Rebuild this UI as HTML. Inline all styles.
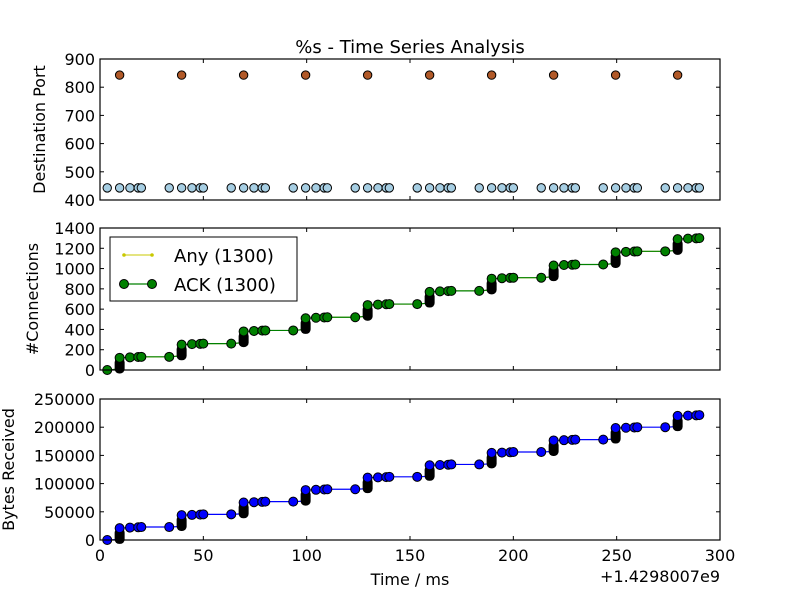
<!DOCTYPE html>
<html><head><meta charset="utf-8">
<style>
body{margin:0;background:#fff;}
svg{display:block;font-family:"DejaVu Sans","Liberation Sans",sans-serif;}
</style></head>
<body>
<svg id="chart" width="800" height="600" viewBox="0 0 800 600" xmlns="http://www.w3.org/2000/svg">
<rect width="800" height="600" fill="#fff"/>
</svg>
<script>
const xTicks=[0,50,100,150,200,250,300];
const portTicks=[400,500,600,700,800,900];
const connTicks=[0,200,400,600,800,1000,1200,1400];
const bytesTicks=[0,50000,100000,150000,200000,250000];
const blueTimes=[3.5,9.5,14.5,18.5,20,33.5,39.5,44.5,48.5,50,63.5,69.5,74.5,78.5,80,93.5,99.5,104.5,108.5,110,123.5,129.5,134.5,138.5,140,153.5,159.5,164.5,168.5,170,183.5,189.5,194.5,198.5,200,213.5,219.5,224.5,228.5,230,243.5,249.5,254.5,258.5,260,273.5,279.5,284.5,288.5,290];
const bluePorts=[443,443,443,443,443,443,443,443,443,443,443,443,443,443,443,443,443,443,443,443,443,443,443,443,443,443,443,443,443,443,443,443,443,443,443,443,443,443,443,443,443,443,443,443,443,443,443,443,443,443];
const redTimes=[9.5,39.5,69.5,99.5,129.5,159.5,189.5,219.5,249.5,279.5];
const redPorts=[843,843,843,843,843,843,843,843,843,843];
const seriesTimes=[
3.5,9.5,9.5,9.5,9.5,9.5,9.5,14.5,18.5,20,
33.5,39.5,39.5,39.5,39.5,39.5,39.5,44.5,48.5,50,
63.5,69.5,69.5,69.5,69.5,69.5,69.5,74.5,78.5,80,
93.5,99.5,99.5,99.5,99.5,99.5,99.5,104.5,108.5,110,
123.5,129.5,129.5,129.5,129.5,129.5,129.5,134.5,138.5,140,
153.5,159.5,159.5,159.5,159.5,159.5,159.5,164.5,168.5,170,
183.5,189.5,189.5,189.5,189.5,189.5,189.5,194.5,198.5,200,
213.5,219.5,219.5,219.5,219.5,219.5,219.5,224.5,228.5,230,
243.5,249.5,249.5,249.5,249.5,249.5,249.5,254.5,258.5,260,
273.5,279.5,279.5,279.5,279.5,279.5,279.5,284.5,288.5,290];
const connValues=[
0,10,32,54,76,98,120,125,128,130,
130,140,162,184,206,228,250,255,258,260,
260,270,292,314,336,358,380,385,388,390,
390,400,422,444,466,488,510,515,518,520,
520,530,552,574,596,618,640,645,648,650,
650,660,682,704,726,748,770,775,778,780,
780,790,812,834,856,878,900,905,908,910,
910,920,942,964,986,1008,1030,1035,1038,1040,
1040,1050,1072,1094,1116,1138,1160,1165,1168,1170,
1170,1180,1202,1224,1246,1268,1290,1295,1298,1300];
const bytesValues=[
0,1000,5000,9000,13000,17000,21000,22000,22500,23000,
23000,24000,28000,32000,36000,40000,44000,44500,45000,45500,
45500,46500,50500,54500,58500,62500,66500,67000,67500,68000,
68000,69000,73000,77000,81000,85000,88500,89000,89500,90000,
90000,91000,95000,99000,103000,107000,110500,111000,111500,112000,
112000,113000,117000,121000,125000,129000,132500,133000,133500,134000,
134000,135000,139000,143000,147000,151000,154500,155000,155500,156000,
156000,157000,161000,165000,169000,173000,176500,177000,177500,178000,
178000,179000,183000,187000,191000,195000,198500,199000,199500,200000,
200000,201000,205000,209000,213000,217000,220000,220500,221000,221500];

const NS="http://www.w3.org/2000/svg";
const svg=document.getElementById('chart');
function mk(tag,attrs,parent){const e=document.createElementNS(NS,tag);for(const k in attrs)e.setAttribute(k,attrs[k]);(parent||svg).appendChild(e);return e;}
const X0=100,X1=720;
const xs=t=>X0+(t-0)/(300-0)*(X1-X0);
function panel(name,top,bot,ymin,ymax,yticks,ylabel,showX,ylx){
  const g=mk('g',{});
  
  
  const ys=v=>bot-(v-ymin)/(ymax-ymin)*(bot-top);
  xTicks.forEach(t=>{const x=xs(t);
    const a=mk('line',{x1:x,x2:x,y1:bot,y2:bot-4,stroke:'#000','stroke-width':1},g);
    
    mk('line',{x1:x,x2:x,y1:top,y2:top+4,stroke:'#000','stroke-width':1},g);
    if(showX){const tx=mk('text',{x:x,y:bot+21,'font-size':16,'text-anchor':'middle',fill:'#000'},g);tx.textContent=t;
      }
  });
  yticks.forEach(v=>{const y=ys(v);
    const a=mk('line',{x1:X0,x2:X0+4,y1:y,y2:y,stroke:'#000','stroke-width':1},g);
    
    mk('line',{x1:X1,x2:X1-4,y1:y,y2:y,stroke:'#000','stroke-width':1},g);
    const tx=mk('text',{x:X0-5,y:y+6,'font-size':16,'text-anchor':'end',fill:'#000'},g);tx.textContent=v;
    
  });
  const yl=mk('text',{x:0,y:0,'font-size':16,'text-anchor':'middle',fill:'#000',transform:`translate(${ylx},${(top+bot)/2}) rotate(-90)`},g);
  yl.textContent=ylabel;
  
  return {g,ys,top,bot};
}
function frame(p){const r=mk('rect',{x:X0,y:p.top,width:X1-X0,height:p.bot-p.top,fill:'none',stroke:'#000','stroke-width':1.2},p.g);
  }
function dot(p,x,y,r,fill,name){const c=mk('circle',{cx:x,cy:y,r:r,fill:fill,stroke:'#000','stroke-width':1},p.g);
  }
function stacks(p,vals,r){
  let i=0;
  while(i<seriesTimes.length){let j=i;while(j+1<seriesTimes.length&&seriesTimes[j+1]===seriesTimes[i])j++;
    if(j>i){const x=xs(seriesTimes[i]);const y1=p.ys(vals[j]),y2=p.ys(vals[i]);
      const s=mk('rect',{x:x-r-0.5,y:y1,width:2*r+1,height:y2-y1+r,rx:r,fill:'#000'},p.g);
      }
    i=j+1;}
}
function drawDots(p,vals,fill,name){
  seriesTimes.forEach((t,i)=>{const next=i+1<seriesTimes.length&&seriesTimes[i+1]===t;
    if(!next) dot(p,xs(t),p.ys(vals[i]),4.5,fill,name);});
}

const ti=mk('text',{x:410,y:53,'font-size':18,'text-anchor':'middle',fill:'#000'});
ti.textContent='%s - Time Series Analysis';


const p1=panel('port-panel',59,200,400,900,portTicks,'Destination Port',false,45);
blueTimes.forEach((t,i)=>dot(p1,xs(t),p1.ys(bluePorts[i]),4.2,'#a6cee3','port-point'));
redTimes.forEach((t,i)=>dot(p1,xs(t),p1.ys(redPorts[i]),4.2,'#b15928','port-point-843'));
frame(p1);

const p2=panel('connections-panel',228,370,0,1400,connTicks,'#Connections',false,38);
let d='';seriesTimes.forEach((t,i)=>{d+=(i?'L':'M')+xs(t)+','+p2.ys(connValues[i]);});
const l1=mk('path',{d:d,fill:'none',stroke:'#c8c800','stroke-width':1},p2.g);

const l2=mk('path',{d:d,fill:'none',stroke:'#008000','stroke-width':1.2},p2.g);

stacks(p2,connValues,4.5);
drawDots(p2,connValues,'#008000','ack-point');
frame(p2);
const lg=mk('g',{},p2.g);

mk('rect',{x:110,y:237,width:187,height:64,fill:'#fff',stroke:'#000','stroke-width':1},lg);
mk('line',{x1:124,x2:152,y1:255,y2:255,stroke:'#c8c800','stroke-width':1},lg);
mk('circle',{cx:124,cy:255,r:1.8,fill:'#c8c800'},lg);mk('circle',{cx:152,cy:255,r:1.8,fill:'#c8c800'},lg);
const lt1=mk('text',{x:174,y:262,'font-size':18,fill:'#000'},lg);lt1.textContent='Any (1300)';

mk('line',{x1:124,x2:152,y1:284,y2:284,stroke:'#008000','stroke-width':1.2},lg);
mk('circle',{cx:124,cy:284,r:4.5,fill:'#008000',stroke:'#000'},lg);mk('circle',{cx:152,cy:284,r:4.5,fill:'#008000',stroke:'#000'},lg);
const lt2=mk('text',{x:174,y:291,'font-size':18,fill:'#000'},lg);lt2.textContent='ACK (1300)';


const p3=panel('bytes-panel',399,540,0,250000,bytesTicks,'Bytes Received',true,14);
let d3='';seriesTimes.forEach((t,i)=>{d3+=(i?'L':'M')+xs(t)+','+p3.ys(bytesValues[i]);});
const l3=mk('path',{d:d3,fill:'none',stroke:'#0000ff','stroke-width':1.2},p3.g);

stacks(p3,bytesValues,4.5);
drawDots(p3,bytesValues,'#0000ff','bytes-point');
frame(p3);
const xl=mk('text',{x:410,y:585,'font-size':16,'text-anchor':'middle',fill:'#000'});
xl.textContent='Time / ms';

const off=mk('text',{x:720,y:582,'font-size':16,'text-anchor':'end',fill:'#000'});
off.textContent='+1.4298007e9';

</script>
</body></html>
